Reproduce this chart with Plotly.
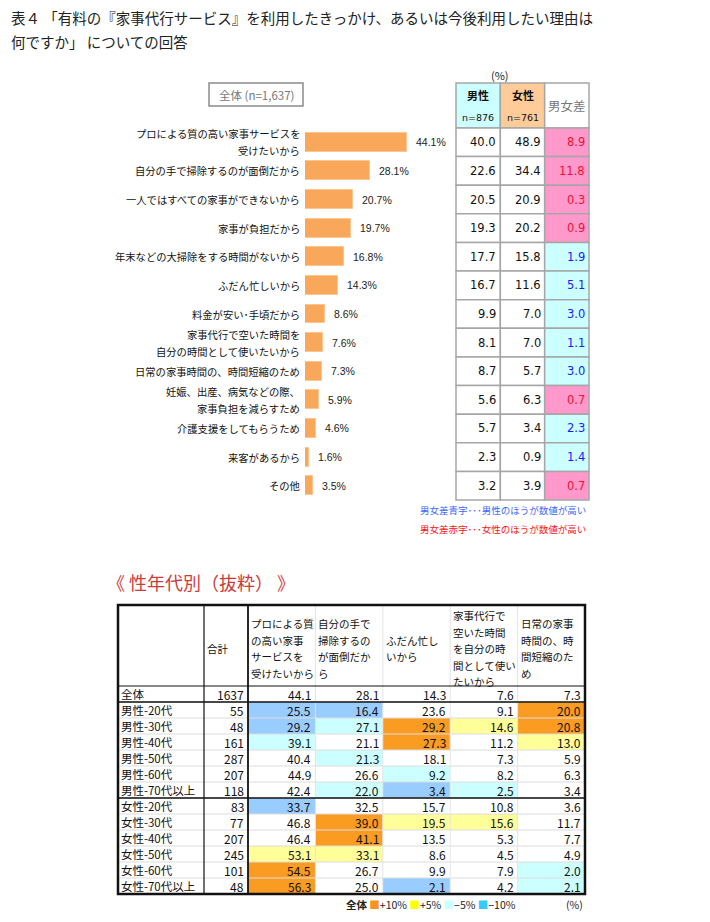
import plotly.graph_objects as go

# the page body adds an 8px margin, so the figure is drawn 8px smaller and
# every reference pixel position is shifted by that offset
OFF = 8
W, H = 710 - OFF, 922 - OFF
JP = "Noto Sans CJK JP"


def px_x(p):
    return (p - OFF) / W


def px_y(p):
    return 1 - (p - OFF) / H


# ------------------------------------------------------------------ data
reasons = [
    "プロによる質の高い家事サービスを<br>受けたいから",
    "自分の手で掃除するのが面倒だから",
    "一人ではすべての家事ができないから",
    "家事が負担だから",
    "年末などの大掃除をする時間がないから",
    "ふだん忙しいから",
    "料金が安い･手頃だから",
    "家事代行で空いた時間を<br>自分の時間として使いたいから",
    "日常の家事時間の、時間短縮のため",
    "妊娠、出産、病気などの際、<br>家事負担を減らすため",
    "介護支援をしてもらうため",
    "来客があるから",
    "その他",
]
total_pct = [44.1, 28.1, 20.7, 19.7, 16.8, 14.3, 8.6, 7.6, 7.3, 5.9, 4.6, 1.6, 3.5]
male_pct = [40.0, 22.6, 20.5, 19.3, 17.7, 16.7, 9.9, 8.1, 8.7, 5.6, 5.7, 2.3, 3.2]
female_pct = [48.9, 34.4, 20.9, 20.2, 15.8, 11.6, 7.0, 7.0, 5.7, 6.3, 3.4, 0.9, 3.9]
gender_gap = [8.9, 11.8, 0.3, 0.9, 1.9, 5.1, 3.0, 1.1, 3.0, 0.7, 2.3, 1.4, 0.7]
table_heads = ["男性", "女性", "男女差"]
table_n = ["n=876", "n=761", ""]

segments = ["全体", "男性-20代", "男性-30代", "男性-40代", "男性-50代", "男性-60代",
            "男性-70代以上", "女性-20代", "女性-30代", "女性-40代", "女性-50代",
            "女性-60代", "女性-70代以上"]
segment_n = [1637, 55, 48, 161, 287, 207, 118, 83, 77, 207, 245, 101, 48]
item_heads = [
    "プロによる質<br>の高い家事<br>サービスを<br>受けたいから",
    "自分の手で<br>掃除するの<br>が面倒だか<br>ら",
    "ふだん忙し<br>いから",
    "家事代行で<br>空いた時間<br>を自分の時<br>間として使い<br>たいから",
    "日常の家事<br>時間の、時<br>間短縮のた<br>め",
]
item_pro = [44.1, 25.5, 29.2, 39.1, 40.4, 44.9, 42.4, 33.7, 46.8, 46.4, 53.1, 54.5, 56.3]
item_bother = [28.1, 16.4, 27.1, 21.1, 21.3, 26.6, 22.0, 32.5, 39.0, 41.1, 33.1, 26.7, 25.0]
item_busy = [14.3, 23.6, 29.2, 27.3, 18.1, 9.2, 3.4, 15.7, 19.5, 13.5, 8.6, 9.9, 2.1]
item_freetime = [7.6, 9.1, 14.6, 11.2, 7.3, 8.2, 2.5, 10.8, 15.6, 5.3, 4.5, 7.9, 4.2]
item_shorten = [7.3, 20.0, 20.8, 13.0, 5.9, 6.3, 3.4, 3.6, 11.7, 7.7, 4.9, 2.0, 2.1]
# highlight class: O=+10%, Y=+5%, C=-5%, B=-10%, -=none
item_marks = ["-----", "BB--O", "BCOYO", "C-O-Y", "-C---", "--C--", "-CBC-",
              "B----", "-OYY-", "-O---", "YY---", "O---C", "O-B-C"]
legend_items = ["+10%", "+5%", "−5%", "−10%"]

# ------------------------------------------------------------------ styles
BAR_COLOR = "#f9a75b"
BAR_EDGE = "#fcc691"
MARK_FILL = {"O": "#fa9b22", "Y": "#ffff99", "C": "#ccffff", "B": "#99ccff"}
LEGEND_FILL = ["#f7931e", "#ffff00", "#ccffff", "#33ccff"]
GRID = "#a6a6a6"

fig = go.Figure()
ann = []
shapes = []

# ------------------------------------------------------------------ top: bars
n = len(reasons)
ROW_TOP, ROW_BOT, HEAD_TOP = 128, 500, 83
row_h = (ROW_BOT - ROW_TOP) / n
head_rows = (ROW_TOP - HEAD_TOP) / row_h
PAD = 4
pad_r = PAD / row_h
BAR_X0, PX_PER = 305, 2.313
XMAX = 50

fig.add_trace(go.Bar(
    x=total_pct, y=list(range(n)), orientation="h", width=0.66,
    marker=dict(color=BAR_COLOR, line=dict(color=BAR_EDGE, width=1)),
    hoverinfo="skip", showlegend=False, xaxis="x", yaxis="y"))

for i, (lab, v) in enumerate(zip(reasons, total_pct)):
    lines = lab.split("<br>")
    k = len(lines)
    for j, ln in enumerate(lines):
        ann.append(dict(x=0, y=i, xref="x", yref="y", text=ln, showarrow=False,
                        xanchor="right", yanchor="middle", xshift=-4,
                        yshift=-(j - (k - 1) / 2) * 17, borderpad=0,
                        font=dict(family=JP, size=10.3, color="#111")))
    ann.append(dict(x=v, y=i, xref="x", yref="y", text=f"{v:.1f}%", showarrow=False,
                    xanchor="left", yanchor="middle", xshift=8, borderpad=0,
                    font=dict(family="Liberation Sans", size=10.5, color="#222")))

# ------------------------------------------------------------------ top: table
TX0, TX1 = 456, 589
fig.add_trace(go.Scatter(x=[0.5], y=[0], mode="markers", marker=dict(opacity=0),
                         hoverinfo="skip", showlegend=False, xaxis="x2", yaxis="y"))
head_fill = ["#ccffff", "#ffcc99", "#ffffff"]
ytop = -0.5 - head_rows
for c in range(3):
    shapes.append(dict(type="rect", xref="x2", yref="y", x0=c, x1=c + 1, y0=ytop, y1=-0.5,
                       fillcolor=head_fill[c], line=dict(color=GRID, width=1.5), layer="below"))
    if table_n[c]:
        ann.append(dict(x=c + 0.5, y=ytop, xref="x2", yref="y", text=f"<b>{table_heads[c]}</b>",
                        showarrow=False, yanchor="middle", yshift=-12, borderpad=0,
                        font=dict(family=JP, size=11, color="#111")))
        ann.append(dict(x=c + 0.5, y=-0.5, xref="x2", yref="y", text=table_n[c],
                        showarrow=False, yanchor="middle", yshift=11, borderpad=0,
                        font=dict(family="DejaVu Sans", size=9.5, color="#111")))
    else:
        ann.append(dict(x=c + 0.5, y=(ytop - 0.5) / 2, xref="x2", yref="y", text=table_heads[c],
                        showarrow=False, yanchor="middle", borderpad=0,
                        font=dict(family=JP, size=12.5, color="#777")))
for i in range(n):
    female_higher = female_pct[i] > male_pct[i]
    vals = [male_pct[i], female_pct[i], gender_gap[i]]
    fills = ["#ffffff", "#ffffff", "#ff99cc" if female_higher else "#ccffff"]
    cols = ["#111", "#111", "#ee1133" if female_higher else "#1a1aff"]
    for c in range(3):
        shapes.append(dict(type="rect", xref="x2", yref="y", x0=c, x1=c + 1, y0=i - 0.5, y1=i + 0.5,
                           fillcolor=fills[c], line=dict(color=GRID, width=1.5), layer="below"))
        ann.append(dict(x=c + 1, y=i, xref="x2", yref="y", text=f"{vals[c]:.1f}", showarrow=False,
                        xanchor="right", yanchor="middle", xshift=-3, borderpad=0,
                        font=dict(family="DejaVu Sans", size=11.5, color=cols[c])))

# ------------------------------------------------------------------ bottom table
col_w = [86, 44] + [67.4] * 5
edges = [0]
for w in col_w:
    edges.append(edges[-1] + w)
TW = edges[-1]
BX0, BY0, BY1 = 118, 605, 894
m = len(segments)
brow = (BY1 - BY0 - 81) / m
bhead = 81 / brow
bpad = PAD / brow
fig.add_trace(go.Scatter(x=[0], y=[0], mode="markers", marker=dict(opacity=0),
                         hoverinfo="skip", showlegend=False, xaxis="x3", yaxis="y3"))
columns = [item_pro, item_bother, item_busy, item_freetime, item_shorten]
btop = -0.5 - bhead
for r in range(m):
    for c in range(5):
        mk = item_marks[r][c]
        if mk in MARK_FILL:
            shapes.append(dict(type="rect", xref="x3", yref="y3", x0=edges[c + 2], x1=edges[c + 3],
                               y0=r - 0.5, y1=r + 0.5, fillcolor=MARK_FILL[mk],
                               line=dict(width=0), layer="below"))
for r in range(m - 1):
    shapes.append(dict(type="line", xref="x3", yref="y3", x0=0, x1=TW, y0=r + 0.5, y1=r + 0.5,
                       line=dict(color="#dcdcdc", width=1), layer="below"))
for c in range(3, 7):
    shapes.append(dict(type="line", xref="x3", yref="y3", x0=edges[c], x1=edges[c], y0=btop,
                       y1=m - 0.5, line=dict(color="#e4e4e4", width=1), layer="below"))
for yy, wd in [(-0.5, 1.2), (0.5, 1.6), (6.5, 1.6)]:
    shapes.append(dict(type="line", xref="x3", yref="y3", x0=0, x1=TW, y0=yy, y1=yy,
                       line=dict(color="#111", width=wd)))
for c, wd in [(1, 1.2), (2, 1.8)]:
    shapes.append(dict(type="line", xref="x3", yref="y3", x0=edges[c], x1=edges[c], y0=btop,
                       y1=m - 0.5, line=dict(color="#111", width=wd)))
shapes.append(dict(type="rect", xref="x3", yref="y3", x0=0, x1=TW, y0=btop, y1=m - 0.5,
                   line=dict(color="#111", width=2.5)))


def header_lines(text, x, anchor, shift):
    lines = text.split("<br>")
    k = len(lines)
    for j, ln in enumerate(lines):
        ann.append(dict(x=x, y=(btop - 0.5) / 2, xref="x3", yref="y3", text=ln, showarrow=False,
                        xanchor=anchor, yanchor="middle", xshift=shift,
                        yshift=-3 - (j - (k - 1) / 2) * 16.5, borderpad=0,
                        font=dict(family=JP, size=10.5, color="#111")))


header_lines("合計", edges[1], "left", 2)
for c, h in enumerate(item_heads):
    header_lines(h, edges[c + 2], "left", 2)

for r in range(m):
    ann.append(dict(x=0, y=r, xref="x3", yref="y3", text=segments[r], showarrow=False,
                    xanchor="left", yanchor="middle", xshift=2, borderpad=0,
                    font=dict(family=JP, size=11.5, color="#111")))
    ann.append(dict(x=edges[2], y=r, xref="x3", yref="y3", text=str(segment_n[r]), showarrow=False,
                    xanchor="right", yanchor="middle", xshift=-3, borderpad=0,
                    font=dict(family=JP, size=12, color="#111")))
    for c in range(5):
        ann.append(dict(x=edges[c + 3], y=r, xref="x3", yref="y3", text=f"{columns[c][r]:.1f}",
                        showarrow=False, xanchor="right", yanchor="middle", xshift=-3, borderpad=0,
                        font=dict(family=JP, size=12, color="#111")))


def ptext(x, y, text, size, color="#111", anchor="left", family=JP):
    ann.append(dict(x=px_x(x), y=px_y(y), xref="paper", yref="paper", text=text, showarrow=False,
                    xanchor=anchor, yanchor="middle", borderpad=0,
                    font=dict(family=family, size=size, color=color)))


ptext(10, 18, "表４ 「有料の『家事代行サービス』を利用したきっかけ、あるいは今後利用したい理由は", 14.5, "#222")
ptext(10, 41, "何ですか」 についての回答", 14.5, "#222")
ptext(500, 75, "(%)", 11, "#222", "center")
ptext(256, 95, "全体 (n=1,637)", 11.5, "#777", "center")
shapes.append(dict(type="rect", xref="paper", yref="paper", x0=px_x(209), x1=px_x(303),
                   y0=px_y(106), y1=px_y(83), line=dict(color="#8c8c8c", width=1.5)))
ptext(587, 510, "男女差青字･･･男性のほうが数値が高い", 9.5, "#3d66ff", "right")
ptext(587, 529, "男女差赤字･･･女性のほうが数値が高い", 9.5, "#ff1010", "right")
ptext(106, 582, "《 性年代別（抜粋） 》", 18, "#cc3b3b")

leg = "<b>全体</b> " + " ".join(
    f"<span style='color:{col}'>■</span>{t}" for col, t in zip(LEGEND_FILL, legend_items))
ptext(517, 904, leg, 10.5, "#222", "right")
ptext(584, 904, "(%)", 10.5, "#222", "right")

fig.update_layout(
    width=W, height=H, margin=dict(l=0, r=0, t=0, b=0),
    paper_bgcolor="white", plot_bgcolor="rgba(0,0,0,0)",
    font=dict(family=JP),
    showlegend=False, bargap=0,
    xaxis=dict(domain=[px_x(BAR_X0), px_x(BAR_X0 + XMAX * PX_PER)], range=[0, XMAX],
               visible=False, fixedrange=True),
    yaxis=dict(domain=[px_y(ROW_BOT + PAD), px_y(HEAD_TOP - PAD)],
               range=[n - 0.5 + pad_r, -0.5 - head_rows - pad_r], visible=False, fixedrange=True),
    xaxis2=dict(domain=[px_x(TX0 - PAD), px_x(TX1 + PAD)],
                range=[-PAD * 3 / (TX1 - TX0), 3 + PAD * 3 / (TX1 - TX0)],
                anchor="y", visible=False, fixedrange=True),
    xaxis3=dict(domain=[px_x(BX0 - PAD), px_x(BX0 + TW + PAD)], range=[-PAD, TW + PAD],
                anchor="y3", visible=False, fixedrange=True),
    yaxis3=dict(domain=[px_y(BY1 + PAD), px_y(BY0 - PAD)],
                range=[m - 0.5 + bpad, btop - bpad], anchor="x3", visible=False, fixedrange=True),
    shapes=shapes, annotations=ann,
)

fig.write_html("out.html")
